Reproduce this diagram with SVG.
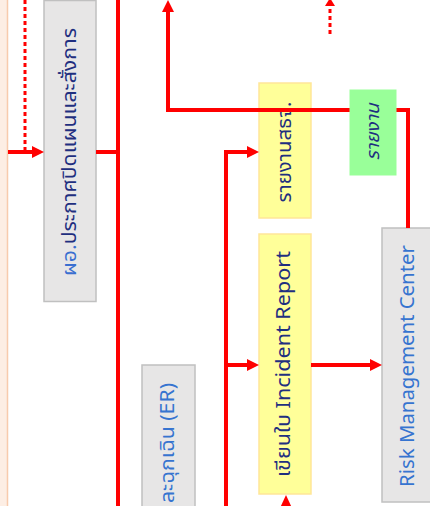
<svg xmlns="http://www.w3.org/2000/svg" width="430" height="506" viewBox="0 0 430 506">
  <defs>
    <style>
      .gbox { fill: #E7E6E6; stroke: #C0C0C0; stroke-width: 1.5; }
      .ybox { fill: #FFFF99; stroke: #FFE699; stroke-width: 1.5; }
      .green { fill: #99FF99; stroke: #99FF99; stroke-width: 1; }
      .line { fill: none; stroke: #FF0000; stroke-width: 4; }
      .dot { fill: none; stroke: #FF0000; stroke-width: 3; stroke-dasharray: 4 3; }
      .t { font-family: "Noto Sans Thai", "Noto Sans", Tahoma, "DejaVu Sans", sans-serif; text-anchor: middle; dominant-baseline: central; }
      .navy { fill: #1F2F80; }
      .blue { fill: #3674D0; }
    </style>
    <marker id="ah" markerUnits="userSpaceOnUse" markerWidth="12" markerHeight="12" refX="0" refY="6" orient="auto">
      <path d="M0,0 L12,6 L0,12 Z" fill="#FF0000"/>
    </marker>
    <marker id="ahs" markerUnits="userSpaceOnUse" markerWidth="10" markerHeight="10" refX="0" refY="5" orient="auto">
      <path d="M0,0 L8,5 L0,10 Z" fill="#FF0000"/>
    </marker>
  </defs>

  <rect x="0" y="0" width="430" height="506" fill="#FFFFFF"/>

  <!-- left lane strip -->
  <g id="lane">
    <rect x="0" y="0" width="7" height="506" fill="#FDEEE4"/>
    <line x1="7.5" y1="0" x2="7.5" y2="506" stroke="#F8CBAD" stroke-width="1.5"/>
  </g>

  <g id="node-close-plan">
    <rect class="gbox" x="44" y="0.5" width="52" height="301"/>
    <text class="t" font-size="19" transform="translate(70,152) rotate(-90)" textLength="248" lengthAdjust="spacingAndGlyphs"><tspan fill="#3A6FD0">ผอ.</tspan><tspan class="navy">ประกาศปิดแผนและสั่งการ</tspan></text>
  </g>

  <g id="node-er">
    <rect class="gbox" x="142" y="365" width="53" height="150"/>
    <text class="t blue" font-size="19" transform="translate(168,443) rotate(-90)" textLength="120" lengthAdjust="spacingAndGlyphs">ละฉุกเฉิน (ER)</text>
  </g>

  <g id="node-report-ssj">
    <rect class="ybox" x="259" y="83" width="52" height="135"/>
    <text class="t navy" font-size="19" transform="translate(285,152) rotate(-90)" textLength="101" lengthAdjust="spacingAndGlyphs">รายงานสธจ.</text>
  </g>

  <g id="node-incident">
    <rect class="ybox" x="259" y="234" width="52" height="260"/>
    <text class="t navy" font-size="19" transform="translate(284,364) rotate(-90)" textLength="226" lengthAdjust="spacingAndGlyphs">เขียนใบ Incident Report</text>
  </g>

  <g id="node-rmc">
    <rect class="gbox" x="382" y="228" width="60" height="274"/>
    <text class="t blue" font-size="20" transform="translate(408,366) rotate(-90)" textLength="242" lengthAdjust="spacingAndGlyphs">Risk Management Center</text>
  </g>

  <g id="connectors">
    <line class="dot" x1="25" y1="0" x2="25" y2="150"/>
    <path class="line" d="M8,152 H32" marker-end="url(#ah)"/>
    <path class="line" d="M96,152 H118"/>
    <path class="line" d="M118,0 V506"/>
    <path class="line" d="M408,228 V110 H168 V12" marker-end="url(#ah)"/>
    <path class="dot" d="M330,34 V6" marker-end="url(#ahs)"/>
    <path class="line" d="M226,506 V152 H247" marker-end="url(#ah)"/>
    <path class="line" d="M226,365 H247" marker-end="url(#ah)"/>
    <path class="line" d="M311,365 H370" marker-end="url(#ah)"/>
    <path d="M280,508 L286,495 L292,508 Z" fill="#FF0000"/>
  </g>

  <g id="label-report">
    <rect class="green" x="350" y="90" width="46" height="85"/>
    <text class="t navy" font-size="18" font-style="italic" transform="translate(373,132) rotate(-90)" textLength="57" lengthAdjust="spacingAndGlyphs">รายงาน</text>
  </g>
</svg>
